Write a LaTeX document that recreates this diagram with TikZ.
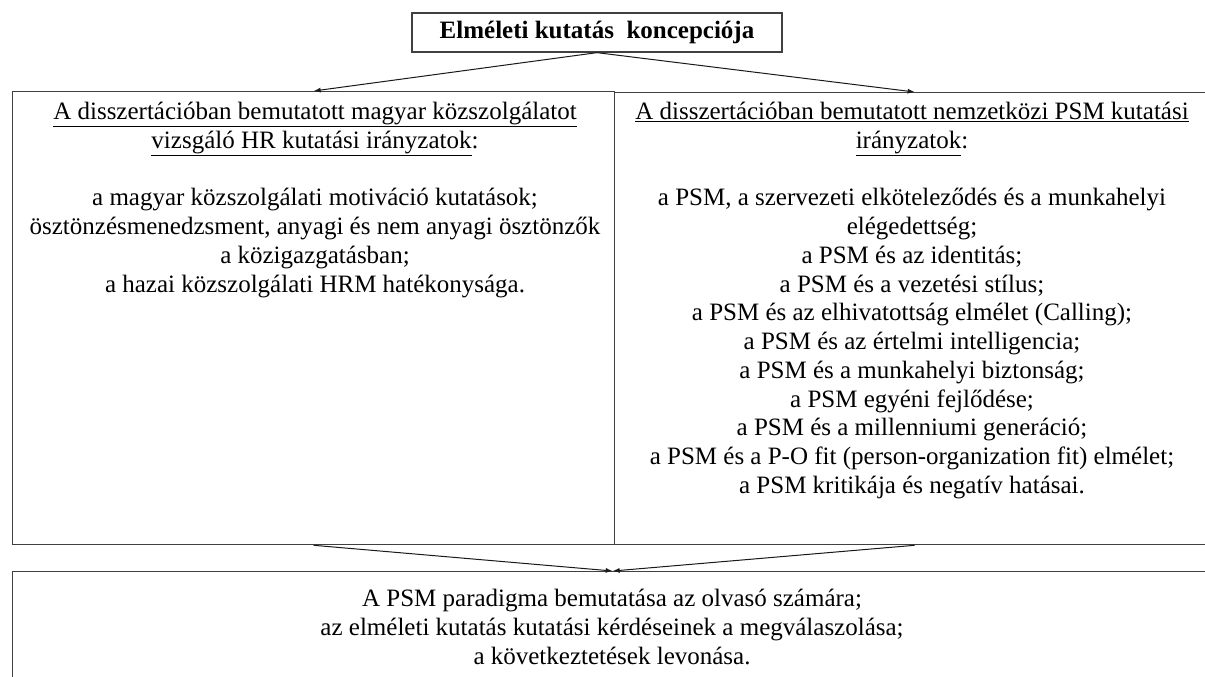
\documentclass[tikz,border=0pt]{standalone}
\usepackage{fontspec}
\setmainfont{Liberation Serif}
\usetikzlibrary{arrows.meta}
\begin{document}
\begin{tikzpicture}[x=1pt,y=-1pt,
  box/.style={draw=black!75, line width=1.3pt, inner sep=0pt},
  txt/.style={inner sep=0pt, align=center, anchor=north, font=\fontsize{25}{28.75}\selectfont},
  conn/.style={draw=black!90, line width=1pt, -{Latex[length=7pt,width=5pt]}}]
\useasboundingbox (0,0) rectangle (1205,677);
\node[box, minimum width=370pt, minimum height=39pt, font=\fontsize{25}{28.75}\selectfont\bfseries] (top) at (597,32.5) {Elméleti kutatás\ \ koncepciója};
\node[box, anchor=north west, minimum width=602pt, minimum height=453pt] (L) at (12,91) {};
\node[box, anchor=north west, minimum width=600pt, minimum height=452pt] (R) at (614,92) {};
\node[box, anchor=north west, minimum width=1200pt, minimum height=140pt] (B) at (12,571) {};
\node[txt] (Lt) at (315,102) {\underline{A disszertációban\ bemutatott magyar közszolgálatot}\\
 \underline{vizsgáló HR kutatási irányzatok}:\\ \strut\\
 a magyar közszolgálati motiváció kutatások;\\
 ösztönzésmenedzsment, anyagi és nem anyagi ösztönzők\\
 a közigazgatásban;\\
 a hazai közszolgálati HRM hatékonysága.};
\node[txt] (Rt) at (912,102) {\underline{A disszertációban bemutatott nemzetközi PSM kutatási}\\
 \underline{irányzatok}:\\ \strut\\
 a PSM, a szervezeti elköteleződés és a munkahelyi\\
 elégedettség;\\
 a PSM és az identitás;\\
 a PSM és a vezetési stílus;\\
 a PSM és az elhivatottság elmélet (Calling);\\
 a PSM és az értelmi intelligencia;\\
 a PSM és a munkahelyi biztonság;\\
 a PSM egyéni fejlődése;\\
 a PSM és a millenniumi generáció;\\
 a PSM és a P-O fit (person-organization fit) elmélet;\\
 a PSM kritikája és negatív hatásai.};
\node[txt] (Bt) at (612,589) {A PSM paradigma bemutatása az olvasó számára;\\
 az elméleti kutatás kutatási kérdéseinek a megválaszolása;\\
 a következtetések levonása.};
\draw[conn] (top.south) -- (L.north);
\draw[conn] (top.south) -- (R.north);
\draw[conn] (L.south) -- (B.north);
\draw[conn] (R.south) -- (B.north);
\end{tikzpicture}
\end{document}
